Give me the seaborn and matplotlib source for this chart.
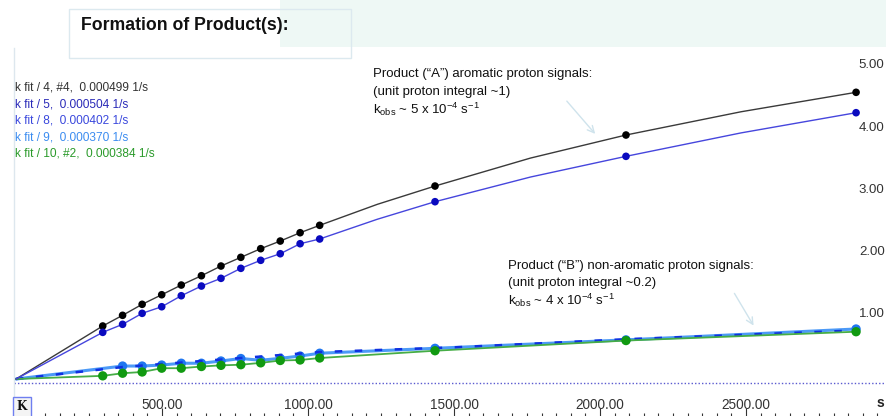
import numpy as np
import pandas as pd
import matplotlib.pyplot as plt
import seaborn as sns
from matplotlib.patches import Rectangle
from matplotlib.ticker import FixedLocator

sns.set_style("white")
plt.rcParams['font.family'] = ['Liberation Sans', 'DejaVu Sans']
plt.rcParams['mathtext.default'] = 'regular'

# --- data (time in s, integral) ---
t_main = [297, 365, 432, 499, 566, 635, 702, 770, 838, 905, 973, 1040, 1435, 2089, 2877]
fit4 = [0.853, 1.025, 1.202, 1.356, 1.512, 1.662, 1.818, 1.958, 2.097, 2.220, 2.354, 2.473,
        3.105, 3.926, 4.613]
fit5 = [0.751, 0.880, 1.057, 1.163, 1.340, 1.496, 1.620, 1.781, 1.910, 2.016, 2.177, 2.253,
        2.853, 3.583, 4.285]
fit10 = [0.051, 0.093, 0.113, 0.174, 0.174, 0.201, 0.220, 0.230, 0.260, 0.298, 0.306, 0.338,
         0.455, 0.619, 0.761]
t9 = [365, 432, 499, 566, 635, 702, 770, 838, 905, 973, 1040, 1435, 2089, 2877]
fit9 = [0.209, 0.209, 0.225, 0.254, 0.254, 0.290, 0.330, 0.302, 0.333, 0.370, 0.415,
        0.494, 0.630, 0.805]
t8 = [365, 1040, 1503, 2089, 2870]
fit8 = [0.193, 0.434, 0.510, 0.640, 0.780]

# extra readings of the two upper curves between the sparse late samples
t_extra = [1237, 1762, 2483]
extra4 = [2.81, 3.555, 4.30]
extra5 = [2.57, 3.25, 3.96]

legend_lines = ["k fit / 4, #4,  0.000499 1/s",
                "k fit / 5,  0.000504 1/s",
                "k fit / 8,  0.000402 1/s",
                "k fit / 9,  0.000370 1/s",
                "k fit / 10, #2,  0.000384 1/s"]
legend_colors = ['#333333', '#2a2ab8', '#3a48dd', '#3b8cf0', '#2a9a2a']
x_major = [500, 1000, 1500, 2000, 2500]
y_labels = [1, 2, 3, 4, 5]

W, H = 886, 416
fx = lambda px: px / W
fy = lambda py: 1 - py / H

fig = plt.figure(figsize=(W / 100, H / 100), dpi=100)

# header decoration
fig.patches.append(Rectangle((fx(280), fy(47)), 1 - fx(280), 47 / H, transform=fig.transFigure,
                             facecolor='#eef8f5', edgecolor='none', zorder=0))
fig.patches.append(Rectangle((fx(69), fy(58)), (351 - 69) / W, 49 / H, transform=fig.transFigure,
                             facecolor='none', edgecolor='#dce9ef', linewidth=1, zorder=1))
fig.text(fx(81), fy(25), "Formation of Product(s):", fontsize=12.7, fontweight='bold',
         va='center', ha='left', color='#111111')

ax = fig.add_axes([fx(14), 0, 1 - fx(14), (H - 48) / H])
ax.set_xlim(-6.85, 2979.5)
ax.set_ylim(-0.595, 5.326)


def draw_line(t, v, color, lw, dashes=None, z=2):
    curve = pd.DataFrame({'t': [0] + list(t), 'v': [0] + list(v)}).sort_values('t')
    sns.lineplot(data=curve, x='t', y='v', ax=ax, color=color, linewidth=lw,
                 estimator=None, sort=False, zorder=z)
    if dashes is not None:
        ax.lines[-1].set_dashes(dashes)


def draw_pts(t, v, color, size, z=3):
    sns.scatterplot(x=t, y=v, ax=ax, color=color, s=size, edgecolor='none', zorder=z)


draw_line(t9, fit9, '#4c9af7', 2.2, z=2)
draw_pts(t9, fit9, '#1f76f0', 45, z=3)
draw_line(t8, fit8, '#1030e0', 1.8, dashes=(3, 5), z=4)
draw_line(t_main, fit10, '#46ad46', 1.3, z=5)
draw_pts(t_main, fit10, '#119a11', 45, z=5)
draw_line(t_main + t_extra, fit4 + extra4, '#3a3a3a', 1.0, z=6)
draw_pts(t_main, fit4, '#000000', 30, z=7)
draw_line(t_main + t_extra, fit5 + extra5, '#4646dd', 1.0, z=6)
draw_pts(t_main, fit5, '#0a0abf', 30, z=7)

ax.axhline(-0.064, linestyle=(0, (1, 1.5)), color='#5a5ad0', linewidth=1, zorder=1)

for sp in ['top', 'right', 'bottom']:
    ax.spines[sp].set_visible(False)
ax.spines['left'].set_color('#dde7ee')
ax.spines['left'].set_linewidth(1)

ax.xaxis.set_major_locator(FixedLocator(x_major))
ax.xaxis.set_minor_locator(FixedLocator(np.arange(100, 3000, 50)))
ax.set_xticklabels([f"{v:.2f}" for v in x_major])
ax.tick_params(axis='x', which='both', bottom=True)
ax.tick_params(axis='x', which='major', direction='in', length=6, width=0.8,
               color='#333333', pad=-13.2, labelsize=9.8, labelcolor='#333333')
ax.tick_params(axis='x', which='minor', direction='in', length=2.5, width=0.8, color='#333333')
ax.set_yticks([])
ax.set_xlabel('')
ax.set_ylabel('')

for v in y_labels:
    ax.annotate(f"{v:.2f}", xy=(1, v), xycoords=('axes fraction', 'data'),
                xytext=(-1, 2), textcoords='offset points', ha='right', va='center',
                fontsize=9.5, color='#333333')

fig.text(fx(880), fy(403), "s", fontsize=10, fontweight='bold', ha='center', va='center',
         color='#222222')
fig.text(fx(22), fy(407), "K", fontsize=8.5, fontweight='bold', family='DejaVu Serif',
         ha='center', va='center', color='#111111',
         bbox=dict(boxstyle='square,pad=0.3', facecolor='#f4f4f4', edgecolor='#6f7ff0',
                   linewidth=1))

# legend-like text block
for i, (txt, col) in enumerate(zip(legend_lines, legend_colors)):
    fig.text(fx(15), fy(88 + i * 16.4), txt, fontsize=8.6, color=col, ha='left', va='center')

# annotations
ann_a = ["Product (\u201cA\u201d) aromatic proton signals:",
         "(unit proton integral ~1)",
         r"k$_{obs}$ ~ 5 x 10$^{-4}$ s$^{-1}$"]
ann_b = ["Product (\u201cB\u201d) non-aromatic proton signals:",
         "(unit proton integral ~0.2)",
         r"k$_{obs}$ ~ 4 x 10$^{-4}$ s$^{-1}$"]
for i, txt in enumerate(ann_a):
    fig.text(fx(373), fy(74 + i * 17.5), txt, fontsize=9.5, color='#111111', ha='left', va='center')
for i, txt in enumerate(ann_b):
    fig.text(fx(508), fy(266 + i * 17), txt, fontsize=9.5, color='#111111', ha='left', va='center')

for (x0, y0, x1, y1) in [(565, 99, 597, 136), (733, 291, 755, 328)]:
    ax.annotate('', xy=(x1, H - y1), xycoords='figure pixels',
                xytext=(x0, H - y0), textcoords='figure pixels',
                arrowprops=dict(arrowstyle='->', color='#cfe3ec', linewidth=1,
                                mutation_scale=12))

fig.savefig('out.png', dpi=100)
